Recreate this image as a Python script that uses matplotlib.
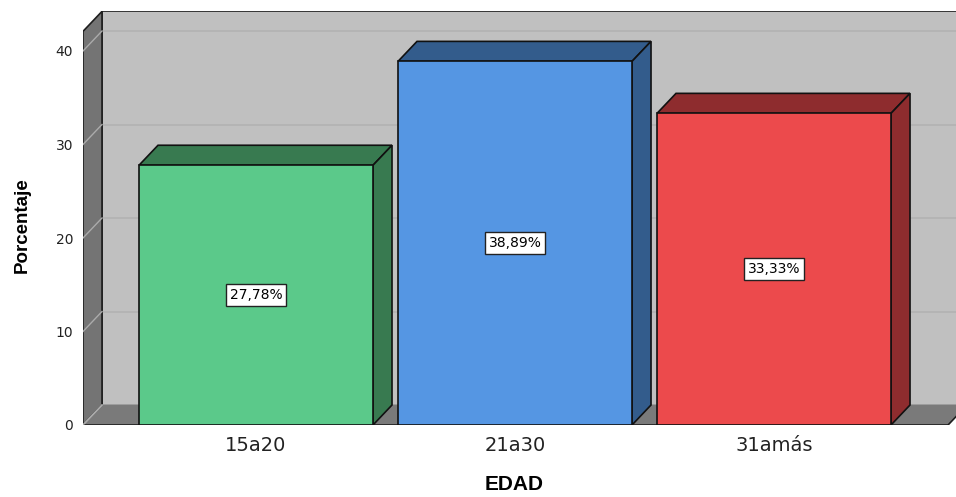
import matplotlib
matplotlib.use("Agg")
import matplotlib.pyplot as plt
from matplotlib.patches import Polygon

plt.rcParams['font.family'] = ['DejaVu Sans']

# data
categories = ['15a20', '21a30', '31amás']
values = [27.78, 38.89, 33.33]
labels = ['27,78%', '38,89%', '33,33%']
front_colors = ['#5BC98A', '#5596E3', '#EC4A4C']
side_colors = ['#387A50', '#335C8C', '#8E2C2E']
yticks = [0, 10, 20, 30, 40]

# 3d look
DX = 19 / 259      # depth offset in category units
DY = 20 / 9.35     # depth offset in percent units
BAR_W = 234 / 259
X0 = -0.668        # left wall position
X1 = 2.672         # floor right end
YTOP = 42.1        # wall height

fig = plt.figure(figsize=(9.56, 4.97), dpi=100)
ax = fig.add_axes([83 / 956, 72 / 497, 873 / 956, 414 / 497])
ax.set_xlim(X0, X0 + 873 / 259)
ax.set_ylim(0, 414 / 9.35)

wall = '#C0C0C0'
side = '#747474'
edge = '#1E1E1E'

# back wall
ax.add_patch(Polygon([(X0 + DX, DY), (X1 + DX + 1, DY), (X1 + DX + 1, YTOP + DY), (X0 + DX, YTOP + DY)],
                     closed=True, facecolor=wall, edgecolor=edge, lw=1.2, zorder=1))
# gridlines
for t in yticks:
    ax.plot([X0 + DX, X1 + DX + 1], [t + DY, t + DY], color='#B2B2B2', lw=1.2, zorder=2)
# left wall
ax.add_patch(Polygon([(X0, 0), (X0, YTOP), (X0 + DX, YTOP + DY), (X0 + DX, DY)],
                     closed=True, facecolor=side, edgecolor=edge, lw=1.2, zorder=3))
for t in yticks:
    ax.plot([X0, X0 + DX], [t, t + DY], color='#ABABAB', lw=1, zorder=4)
# floor
ax.add_patch(Polygon([(X0, 0), (X1, 0), (X1 + DX, DY), (X0 + DX, DY)],
                     closed=True, facecolor='#7A7A7A', edgecolor='none', zorder=3))
ax.plot([X0, X1, X1 + DX], [0, 0, DY], color=edge, lw=1.2, zorder=4)
ax.plot([X0, X0 + DX], [0, DY], color='#ABABAB', lw=1, zorder=4)

# bars
for i, v in enumerate(values):
    l = i - BAR_W / 2
    r = i + BAR_W / 2
    ax.add_patch(Polygon([(l, v), (l + DX, v + DY), (r + DX, v + DY), (r, v)],
                         closed=True, facecolor=side_colors[i], edgecolor='#111111', lw=1.2, zorder=5))
    ax.add_patch(Polygon([(r, 0), (r + DX, DY), (r + DX, v + DY), (r, v)],
                         closed=True, facecolor=side_colors[i], edgecolor='#111111', lw=1.2, zorder=5))
    ax.add_patch(Polygon([(l, 0), (r, 0), (r, v), (l, v)],
                         closed=True, facecolor=front_colors[i], edgecolor='#111111', lw=1.2, zorder=6))
    ax.text(i, v / 2, labels[i], ha='center', va='center', fontsize=10, color='black', zorder=7,
            bbox=dict(boxstyle='square,pad=0.28', facecolor='white', edgecolor='#222222', lw=1))

for s in ax.spines.values():
    s.set_visible(False)
ax.set_yticks(yticks)
ax.set_yticklabels([str(t) for t in yticks], fontsize=10, color='#222222')
ax.set_xticks(range(len(categories)))
ax.set_xticklabels(categories, fontsize=14, color='#222222')
ax.tick_params(axis='y', length=0, pad=7)
ax.tick_params(axis='x', length=0, pad=8)

fig.text(514 / 956, 1 - 485 / 497, 'EDAD', fontsize=15, fontweight='bold',
         family='Liberation Sans', ha='center', va='center')
fig.text(22 / 956, 1 - 225 / 497, 'Porcentaje', fontsize=13.5, fontweight='bold',
         family='Liberation Sans', ha='center', va='center', rotation=90)

fig.savefig('out.png', dpi=100)
